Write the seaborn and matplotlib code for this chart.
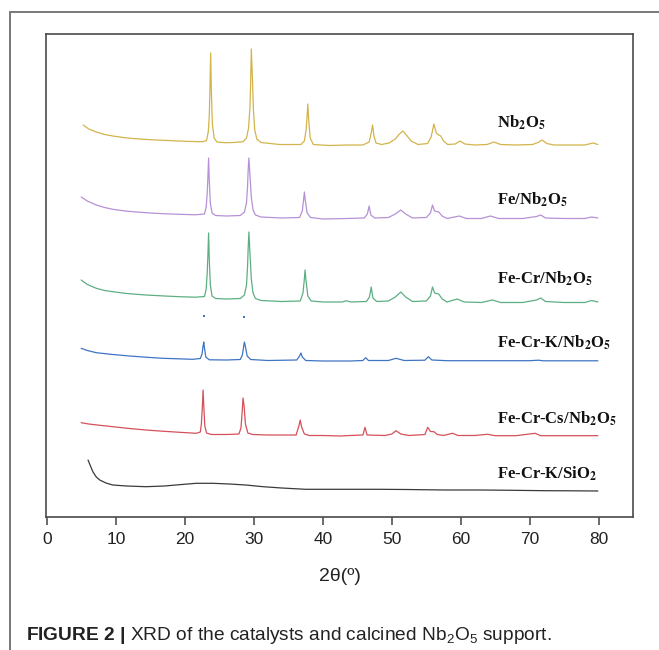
import numpy as np
import pandas as pd
import seaborn as sns
import matplotlib.pyplot as plt
from matplotlib.lines import Line2D

########################## Pattern data ##########################
# (2theta, intensity above own baseline), a.u.
nb2o5 = [(5.2, 21), (6.0, 17), (7.1, 14), (8.3, 11.5), (9.5, 10), (11.0, 8.5), (12.4, 7.5),
         (14.0, 6.7), (15.8, 6), (17.5, 5.5), (19.1, 5), (21.0, 4.5), (22.6, 4.3), (23.1, 5.5),
         (23.35, 14), (23.5, 30), (23.6, 58), (23.7, 93), (23.8, 55), (23.95, 22), (24.2, 8),
         (24.6, 4), (25.9, 3.3), (27.0, 3.5), (28.4, 4.3), (28.9, 8), (29.2, 18), (29.4, 38),
         (29.5, 62), (29.6, 97), (29.75, 70), (29.9, 36), (30.1, 16), (30.4, 7), (31.0, 3.5),
         (33.7, 1.5), (36.8, 1.5), (37.3, 5), (37.55, 16), (37.7, 30), (37.8, 42), (37.95, 24),
         (38.15, 8), (38.6, 1.5), (40.9, 0.5), (43.5, 1), (45.8, 1), (46.7, 4), (47.0, 13),
         (47.2, 21), (47.4, 10), (47.7, 3), (48.5, 1.5), (49.6, 3), (50.5, 7), (51.1, 12),
         (51.6, 15), (52.1, 11), (52.8, 5), (53.8, 1.5), (55.2, 2.5), (55.7, 9), (56.1, 22),
         (56.45, 13), (56.8, 11), (57.1, 10), (57.5, 5), (58.1, 1.5), (59.2, 2), (59.9, 5),
         (60.6, 2), (62.0, 1), (63.8, 1.5), (64.8, 4), (65.8, 1.5), (68.0, 1), (70.4, 1.5),
         (71.2, 3.5), (71.8, 6), (72.5, 2.5), (73.5, 1), (75.8, 1), (78.0, 1), (79.2, 3), (79.9, 1.5)]

fe_nb2o5 = [(4.9, 22), (5.8, 18), (7.1, 14), (8.3, 11.5), (9.5, 9.7), (11.5, 7.8), (14.3, 6.3),
            (17.0, 5.2), (19.2, 4.7), (21.5, 4.2), (22.8, 5), (23.05, 12), (23.2, 26), (23.3, 42),
            (23.4, 61), (23.5, 38), (23.65, 16), (23.9, 6), (24.4, 3.5), (26.0, 3), (28.0, 3.5),
            (28.6, 7), (28.9, 16), (29.05, 32), (29.15, 50), (29.25, 61), (29.4, 44), (29.6, 22),
            (29.85, 9), (30.2, 4), (31.0, 2), (34.0, 1), (36.6, 1.5), (37.0, 8), (37.2, 20),
            (37.3, 27), (37.45, 18), (37.7, 6), (38.2, 1.5), (40.0, 0), (43.5, 0.5), (46.0, 1),
            (46.45, 5), (46.7, 13), (46.95, 4), (47.5, 1), (49.5, 1.5), (50.5, 5), (51.3, 9),
            (52.0, 5), (53.0, 1), (55.0, 1.5), (55.6, 6), (55.9, 14), (56.2, 8), (56.5, 7.5),
            (56.8, 7), (57.3, 3), (58.0, 0.5), (59.8, 3), (60.8, 0.5), (63.0, 0.5), (64.3, 3),
            (65.5, 0.5), (69.0, 0.5), (71.0, 2.5), (71.6, 4), (72.3, 1), (75.0, 0.5), (78.0, 0.5),
            (79.0, 2), (79.9, 1)]

fecr_nb2o5 = [(4.9, 23), (5.8, 18.5), (7.1, 14.7), (8.3, 12.5), (9.5, 11.3), (11.5, 9.5), (14.3, 8),
              (17.0, 7), (19.2, 6.3), (21.5, 5.8), (22.8, 6.5), (23.05, 14), (23.2, 30), (23.3, 48),
              (23.4, 70), (23.5, 44), (23.65, 18), (23.9, 7), (24.4, 4.5), (26.0, 4), (28.0, 4.5),
              (28.6, 8), (28.9, 18), (29.05, 36), (29.15, 56), (29.25, 71), (29.4, 50), (29.6, 24),
              (29.85, 10), (30.2, 4.5), (31.0, 2.5), (34.0, 1.5), (36.7, 2), (37.1, 10), (37.3, 24),
              (37.4, 33), (37.55, 22), (37.8, 7), (38.3, 2), (40.0, 1), (42.8, 1), (43.4, 2.3),
              (44.0, 1), (46.3, 1.5), (46.75, 6), (47.0, 16), (47.25, 5), (47.8, 1.5), (49.5, 2),
              (50.5, 6), (51.3, 11), (52.0, 6), (53.0, 1.5), (55.0, 2), (55.6, 7), (55.9, 16),
              (56.2, 10), (56.5, 9.5), (56.8, 9), (57.3, 4), (58.0, 1), (59.5, 4), (60.5, 1),
              (63.0, 0.5), (64.6, 3), (65.8, 0.5), (69.0, 0.5), (71.0, 3), (71.6, 5), (72.3, 1.5),
              (75.0, 0.5), (78.0, 0.5), (79.0, 2.5), (79.9, 1)]

fecrk_nb2o5 = [(4.9, 12.7), (5.8, 10.5), (7.1, 8.3), (9.5, 6.5), (11.9, 5), (14.3, 3.8), (16.7, 2.7),
               (19.0, 2.2), (21.1, 1.7), (22.2, 2.5), (22.45, 7), (22.6, 15), (22.7, 19), (22.8, 13),
               (23.0, 4), (23.5, 1.2), (26.0, 1), (28.0, 1.5), (28.3, 6), (28.5, 15), (28.6, 19),
               (28.75, 14), (29.0, 5), (29.5, 1.5), (32.0, 0.5), (36.2, 1), (36.6, 5), (36.8, 8),
               (37.0, 4), (37.5, 0.5), (40.0, 0), (44.0, 0), (45.8, 0.5), (46.2, 3.3), (46.6, 0.5),
               (49.5, 0.5), (50.6, 2.7), (51.8, 0.5), (54.8, 0.8), (55.3, 4.3), (55.8, 1), (58.0, 0.3),
               (62.0, 0.3), (66.0, 0.3), (70.0, 0.3), (71.3, 0.8), (72.0, 0.2), (76.0, 0.2), (79.9, 0.2)]
# stray tips of the two main Fe-Cr-K peaks
fecrk_tips = [(22.7, 45), (28.6, 44)]

fecrcs_nb2o5 = [(4.9, 13.3), (6.0, 12), (7.5, 10.8), (9.5, 9.3), (11.9, 7.5), (14.3, 6), (16.7, 4.8),
                (19.2, 3.7), (21.6, 2.7), (22.2, 4), (22.35, 12), (22.5, 30), (22.6, 46), (22.7, 30),
                (22.85, 10), (23.1, 3), (23.8, 1.5), (26.0, 1.5), (27.8, 2), (28.1, 8), (28.25, 22),
                (28.4, 38), (28.55, 30), (28.75, 12), (29.1, 3), (29.8, 1.5), (32.0, 1), (36.1, 1),
                (36.5, 10), (36.7, 16), (36.9, 9), (37.3, 2), (38.0, 0.5), (40.0, 0.5), (42.5, 0),
                (44.0, 0.5), (45.8, 1), (46.1, 8.7), (46.4, 1), (49.0, 0.5), (50.0, 2), (50.6, 5.3),
                (51.3, 2), (52.5, 0.5), (54.8, 1.5), (55.2, 8.7), (55.6, 4.5), (56.1, 4.3), (56.6, 1.5),
                (57.5, 0.5), (58.8, 2.7), (59.6, 0.5), (62.0, 0.5), (63.9, 1.7), (65.0, 0.3), (68.0, 0.3),
                (70.8, 2.7), (71.6, 0.3), (75.0, 0.3), (78.0, 0.3), (79.9, 0.3)]

fecrk_sio2 = [(5.9, 31), (6.2, 26), (6.6, 19.3), (7.1, 14), (7.6, 11), (8.5, 8), (9.5, 6), (11.5, 5),
              (14.3, 4.3), (17.0, 5), (19.5, 6.5), (21.6, 7.7), (24.0, 7.7), (26.4, 7), (28.8, 6),
              (31.3, 4.3), (34.0, 3), (37.5, 1.7), (42.0, 1.7), (48.2, 1.7), (52.0, 1.5), (57.8, 1),
              (63.0, 1), (67.5, 0.7), (72.3, 0.3), (76.0, 0.2), (79.9, 0)]

samples = ["Nb2O5", "Fe/Nb2O5", "Fe-Cr/Nb2O5", "Fe-Cr-K/Nb2O5", "Fe-Cr-Cs/Nb2O5", "Fe-Cr-K/SiO2"]
sample_labels = ["Nb$_\\mathbf{2}$O$_\\mathbf{5}$", "Fe/Nb$_\\mathbf{2}$O$_\\mathbf{5}$",
                 "Fe-Cr/Nb$_\\mathbf{2}$O$_\\mathbf{5}$", "Fe-Cr-K/Nb$_\\mathbf{2}$O$_\\mathbf{5}$",
                 "Fe-Cr-Cs/Nb$_\\mathbf{2}$O$_\\mathbf{5}$", "Fe-Cr-K/SiO$_\\mathbf{2}$"]
patterns = [nb2o5, fe_nb2o5, fecr_nb2o5, fecrk_nb2o5, fecrcs_nb2o5, fecrk_sio2]
offsets = [371, 298, 214, 156, 81, 26]
colors = ["#D2B44C", "#B691D6", "#5DAF82", "#3F74C2", "#D5505A", "#3a3a3a"]

x_ticks = [0, 10, 20, 30, 40, 50, 60, 70, 80]
##################################################################


def build_frame() -> pd.DataFrame:
    rows = []
    for name, pat, off in zip(samples, patterns, offsets):
        for tt, inten in pat:
            rows.append({"two_theta": tt, "intensity": inten + off, "sample": name})
    return pd.DataFrame(rows)


def main():
    sns.set_theme(style="white")
    plt.rcParams["font.family"] = ["Liberation Sans", "DejaVu Sans"]
    plt.rcParams["mathtext.fontset"] = "custom"
    plt.rcParams["mathtext.rm"] = "Liberation Sans"
    plt.rcParams["mathtext.bf"] = "Liberation Sans:bold"
    plt.rcParams["mathtext.it"] = "Liberation Sans:italic"

    df = build_frame()

    fig = plt.figure(figsize=(6.59, 6.5), dpi=100)
    ax = fig.add_axes([46 / 659, 1 - 517 / 650, 587 / 659, 483 / 650])

    sns.lineplot(data=df, x="two_theta", y="intensity", hue="sample",
                 palette=dict(zip(samples, colors)), estimator=None, sort=False,
                 linewidth=0.9, legend=False, ax=ax)

    tips = pd.DataFrame({"two_theta": [t[0] for t in fecrk_tips],
                         "intensity": [t[1] + offsets[3] for t in fecrk_tips]})
    sns.scatterplot(data=tips, x="two_theta", y="intensity", color=colors[3],
                    s=4, marker="s", linewidth=0, ax=ax)

    # sample names next to each trace (Times-like, bold)
    label_y = [394, 317, 238, 174, 98, 43]
    for name, ly in zip(sample_labels, label_y):
        ax.text(65.3, ly, name, fontsize=12, fontweight="bold", va="center", ha="left",
                family=["Liberation Serif", "DejaVu Serif"], math_fontfamily="stix",
                color="#111111")

    ax.set_xlim(-0.2, 85)
    ax.set_ylim(0, 483)
    ax.set_xticks(x_ticks)
    ax.set_yticks([])
    ax.set_xlabel("2θ(º)", fontsize=14, labelpad=15, color="#222222")
    ax.set_ylabel("")
    ax.tick_params(axis="x", bottom=True, direction="out", length=5.5, width=1.1,
                   pad=5.5, labelsize=12.5, colors="#444444", labelcolor="#222222")
    for sp in ax.spines.values():
        sp.set_visible(True)
        sp.set_color("#4a4a4a")
        sp.set_linewidth(1.2)

    # outer frame of the figure panel
    fig.add_artist(Line2D([10 / 659, 1.0], [1 - 12 / 650, 1 - 12 / 650],
                          transform=fig.transFigure, color="#555555", linewidth=1.1))
    fig.add_artist(Line2D([10 / 659, 10 / 659], [0.0, 1 - 12 / 650],
                          transform=fig.transFigure, color="#777777", linewidth=1.4))

    fig.text(26 / 659, 1 - 635 / 650,
             r"$\mathbf{FIGURE\ 2\ |}$ XRD of the catalysts and calcined Nb$_2$O$_5$ support.",
             fontsize=13.8, va="center", ha="left", color="#222222")

    plt.savefig("out.png", dpi=100)
    plt.close()


if __name__ == "__main__":
    main()
